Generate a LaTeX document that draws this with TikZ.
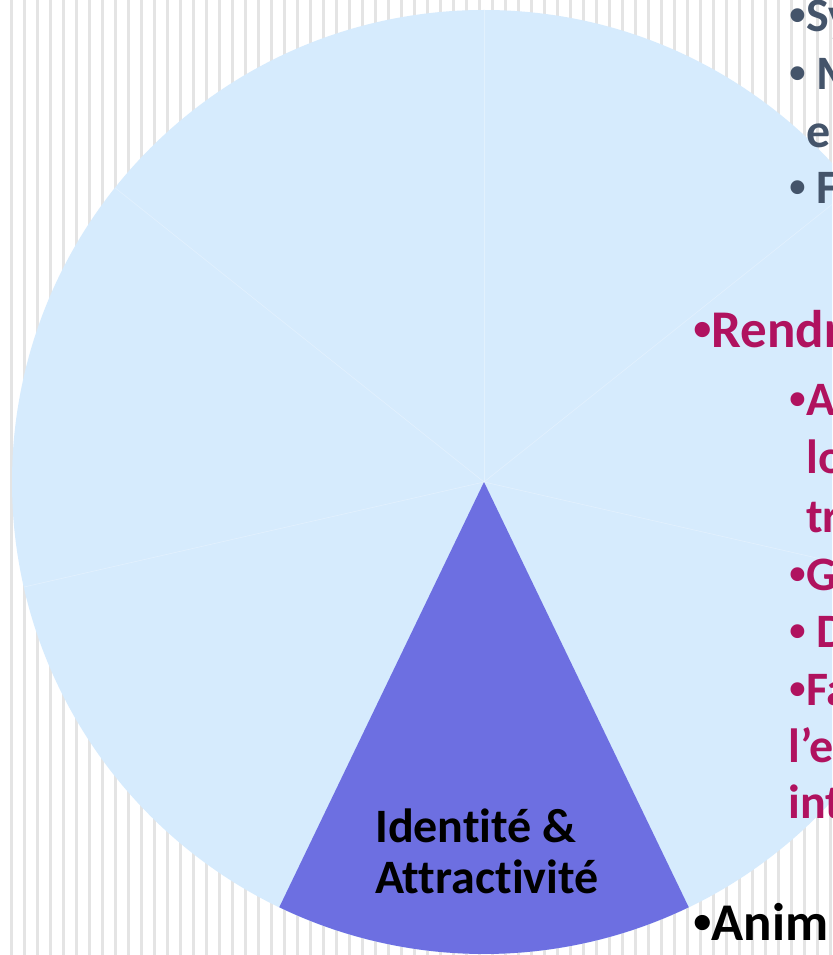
\documentclass[tikz,border=0pt]{standalone}
\usepackage{fontspec}
\setmainfont{Carlito}[Ligatures=NoCommon]
\newfontfamily\bulletfont{Liberation Sans}
\newcommand{\pt}{{\bulletfont •}}
\definecolor{ringblue}{HTML}{D6EBFD}
\definecolor{wedgeblue}{HTML}{6D6FE1}
\definecolor{slatetext}{HTML}{44546A}
\definecolor{berry}{HTML}{B0125F}
\definecolor{stripegray}{HTML}{E4E4E4}

\begin{document}
\begin{tikzpicture}[x=1pt,y=-1pt,
  item/.style={anchor=base west,inner sep=0pt,font=\fontsize{48}{57.6}\selectfont\bfseries},
  headitem/.style={item,font=\fontsize{53}{62}\selectfont\bfseries},
  seam/.style={white,opacity=0.3,line width=0.6pt}]
   \useasboundingbox (0,0) rectangle (832,955);
   \clip (0,0) rectangle (832,955);
   \fill[white] (0,0) rectangle (832,955);
   \foreach \i in {0,...,63}
     \fill[stripegray] (10+13*\i,0) rectangle (13+13*\i,955);
   \coordinate (hub) at (484,482);
   \fill[ringblue] (hub) circle(472pt);
   \foreach \a in {12.86,167.14,218.57,270,321.43}
     \draw[seam] (hub) -- ++(\a:472);
   \fill[wedgeblue] (hub) -- ++(64.29:472) arc[start angle=64.29,end angle=115.71,radius=472] -- cycle;
   \node[item] (ident) at (375,842) {Identité \&};
   \node[item] (attract) at (375,893) {Attractivité};
   \node[item,text=slatetext] (sy) at (789,32) {\pt Sy};
   \node[item,text=slatetext] (m) at (789,90) {\pt{} M};
   \node[item,text=slatetext] (e) at (806,147) {e};
   \node[item,text=slatetext] (f) at (789,203) {\pt{} F};
   \node[headitem,text=berry] (rendr) at (693,347) {\pt Rendr};
   \node[item,text=berry] (a) at (789,415) {\pt A};
   \node[item,text=berry] (lo) at (806,473) {lo};
   \node[item,text=berry] (tr) at (806,532) {tr};
   \node[item,text=berry] (g) at (789,590) {\pt G};
   \node[item,text=berry] (d) at (789,647) {\pt{} D};
   \node[item,text=berry] (fa) at (789,705) {\pt Fa};
   \node[item,text=berry] (le) at (788,762) {l’e};
   \node[item,text=berry] (int) at (788,818) {int};
   \node[headitem] (anim) at (693,940) {\pt Anim};
  \end{tikzpicture}
\end{document}
